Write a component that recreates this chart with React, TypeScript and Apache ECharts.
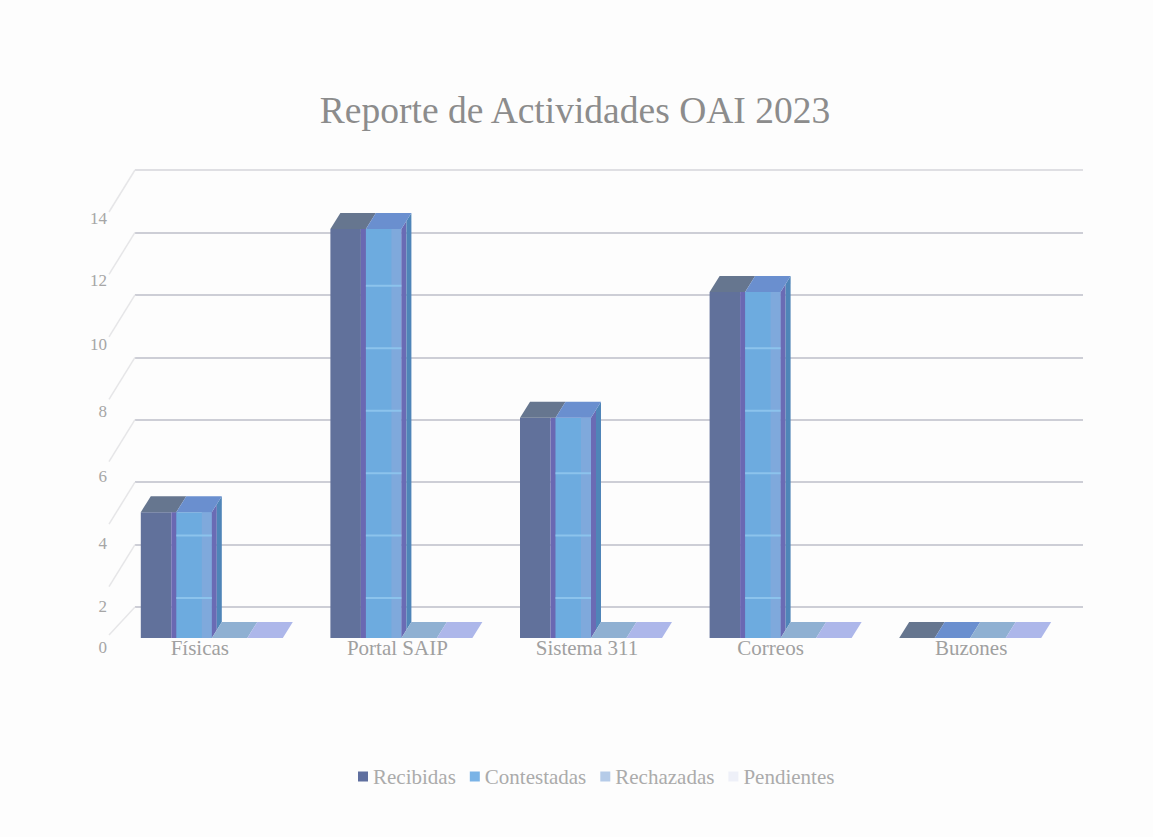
import React, { useEffect, useRef } from "react";
import * as echarts from "echarts";

const categories = ["Físicas", "Portal SAIP", "Sistema 311", "Correos", "Buzones"];
const recibidas = [4, 13, 7, 11, 0];
const contestadas = [4, 13, 7, 11, 0];
const rechazadas = [0, 0, 0, 0, 0];
const pendientes = [0, 0, 0, 0, 0];
const yTicks = [0, 2, 4, 6, 8, 10, 12, 14];

const SERIF = '"Liberation Serif", serif';
const FLOOR_DY = 31;
const DEPTH_X = 10;
const DEPTH_Y = 16;
const SEG = 35.5;
const GROUP_OFFSET = 89;
const PERSP = 1.008;
const tickDrop = [40, 62, 61, 57, 54, 50, 48, 48];
const labelShift = [-30, -22, -22, -28, -17];

const faceColors = ["#61719b", "#6dabdf", "#8fb0d2", "#aab6e8"];
const topColors = ["#66768f", "#6a8fcf", "#8fb0d2", "#adb7ea"];
const gridColors = ["#cdced6", "#cdced6", "#cdced6", "#cdced6", "#cdced6", "#cdced6", "#cdced6", "#dfdfe3"];

function barSeries(name: string, values: number[], idx: number, legendColor: string) {
  return {
    name,
    type: "custom",
    z: 5 + idx,
    itemStyle: { color: legendColor },
    encode: { x: 0, y: 1 },
    data: values.map((v, i) => [i, v]),
    renderItem: (_p: any, api: any) => {
      const cat = api.value(0);
      const val = api.value(1);
      const [cx, y0] = api.coord([cat, 0]);
      const yv = api.coord([cat, val])[1];
      const xl = cx - GROUP_OFFSET + idx * SEG;
      const xr = xl + SEG;
      const base = y0 + FLOOR_DY;
      const top = base - (y0 - yv) * PERSP;
      const children: any[] = [];
      const poly = (points: number[][], fill: string) => ({
        type: "polygon",
        shape: { points },
        style: { fill, stroke: "none" },
      });
      if (val > 0) {
        if (idx === 0) {
          children.push(poly([[xl, base], [xr - 5, base], [xr - 5, top], [xl, top]], faceColors[0]));
          children.push(poly([[xr - 5, base], [xr + 1, base], [xr + 1, top], [xr - 5, top]], "#6a68b2"));
        } else {
          children.push(poly([[xl, base], [xr, base], [xr, top], [xl, top]], faceColors[idx]));
          children.push(poly([[xr - 10, base], [xr, base], [xr, top], [xr - 10, top]], "#7fa9dc"));
          const mid = 5;
          children.push(poly([[xr, base], [xr + mid, base - 8], [xr + mid, top - 8], [xr, top]], "#6a6bb4"));
          children.push(poly([[xr + mid, base - 8], [xr + DEPTH_X, base - DEPTH_Y], [xr + DEPTH_X, top - DEPTH_Y], [xr + mid, top - 8]], "#4f85b8"));
          yTicks.forEach((t) => {
            const ly = api.coord([cat, t])[1] - 9;
            if (ly > top + 4 && ly < base) {
              children.push({
                type: "line",
                shape: { x1: xl, y1: ly, x2: xr, y2: ly },
                style: { stroke: "#8cc3ec", lineWidth: 2 },
              });
            }
          });
        }
      }
      children.push(poly([[xl, top], [xr, top], [xr + DEPTH_X, top - DEPTH_Y], [xl + DEPTH_X, top - DEPTH_Y]], topColors[idx]));
      return { type: "group", children };
    },
  };
}

const wallSeries = {
  type: "custom",
  name: "wall",
  z: 1,
  silent: true,
  encode: { x: 0, y: 1 },
  data: yTicks.map((t, i) => [0, t, i]),
  renderItem: (p: any, api: any) => {
    const t = api.value(1);
    const i = api.value(2);
    const y = api.coord([0, t])[1];
    const x = p.coordSys.x;
    return {
      type: "group",
      children: [
        {
          type: "line",
          shape: { x1: x, y1: y, x2: x - 26, y2: y + (t === 0 ? 28 : 42) },
          style: { stroke: "#e6e6e8", lineWidth: 1.5 },
        },
        {
          type: "text",
          style: {
            x: x - 28,
            y: y + tickDrop[i],
            text: String(t),
            align: "right",
            verticalAlign: "middle",
            font: `17px ${SERIF}`,
            fill: "#a6a6a6",
          },
        },
      ],
    };
  },
};

const labelRich: Record<string, any> = {};
labelShift.forEach((d, i) => {
  labelRich["c" + i] = {
    fontFamily: SERIF,
    fontSize: 21,
    color: "#a0a0a0",
    padding: [0, -2 * d, 0, 0],
  };
});

export default function App() {
  const ref = useRef<HTMLDivElement>(null);
  useEffect(() => {
    const chart = echarts.init(ref.current!, undefined, { renderer: "svg" });
    chart.setOption({
      animation: false,
      backgroundColor: "#fdfdfd",
      title: {
        text: "Reporte de Actividades OAI 2023",
        left: 570,
        top: 86,
        textAlign: "center",
        textStyle: { fontFamily: SERIF, fontSize: 37.5, fontWeight: "normal", color: "#8c8c8c" },
      },
      legend: {
        left: 353,
        top: 761,
        itemWidth: 10,
        itemHeight: 10,
        itemGap: 14,
        icon: "rect",
        data: ["Recibidas", "Contestadas", "Rechazadas", "Pendientes"],
        textStyle: { fontFamily: SERIF, fontSize: 21, color: "#ababab" },
      },
      grid: { left: 135, right: 70, top: 170, bottom: 230 },
      xAxis: {
        type: "category",
        data: categories,
        axisLine: { show: false },
        axisTick: { show: false },
        axisLabel: {
          margin: 30,
          interval: 0,
          fontFamily: SERIF,
          fontSize: 21,
          color: "#a0a0a0",
          formatter: (v: string) => `{c${categories.indexOf(v)}|${v}}`,
          rich: labelRich,
        },
      },
      yAxis: {
        type: "value",
        min: 0,
        max: 14,
        interval: 2,
        axisLine: { show: false },
        axisTick: { show: false },
        axisLabel: { show: false },
        splitLine: { lineStyle: { color: gridColors, width: 2 } },
      },
      series: [
        wallSeries,
        barSeries("Recibidas", recibidas, 0, "#5f6f9f"),
        barSeries("Contestadas", contestadas, 1, "#7ab3e6"),
        barSeries("Rechazadas", rechazadas, 2, "#b5cbe8"),
        barSeries("Pendientes", pendientes, 3, "#eef0f8"),
      ],
    });
    return () => chart.dispose();
  }, []);
  return <div ref={ref} style={{ position: "absolute", left: 0, top: 0, width: 1153, height: 837 }} />;
}
